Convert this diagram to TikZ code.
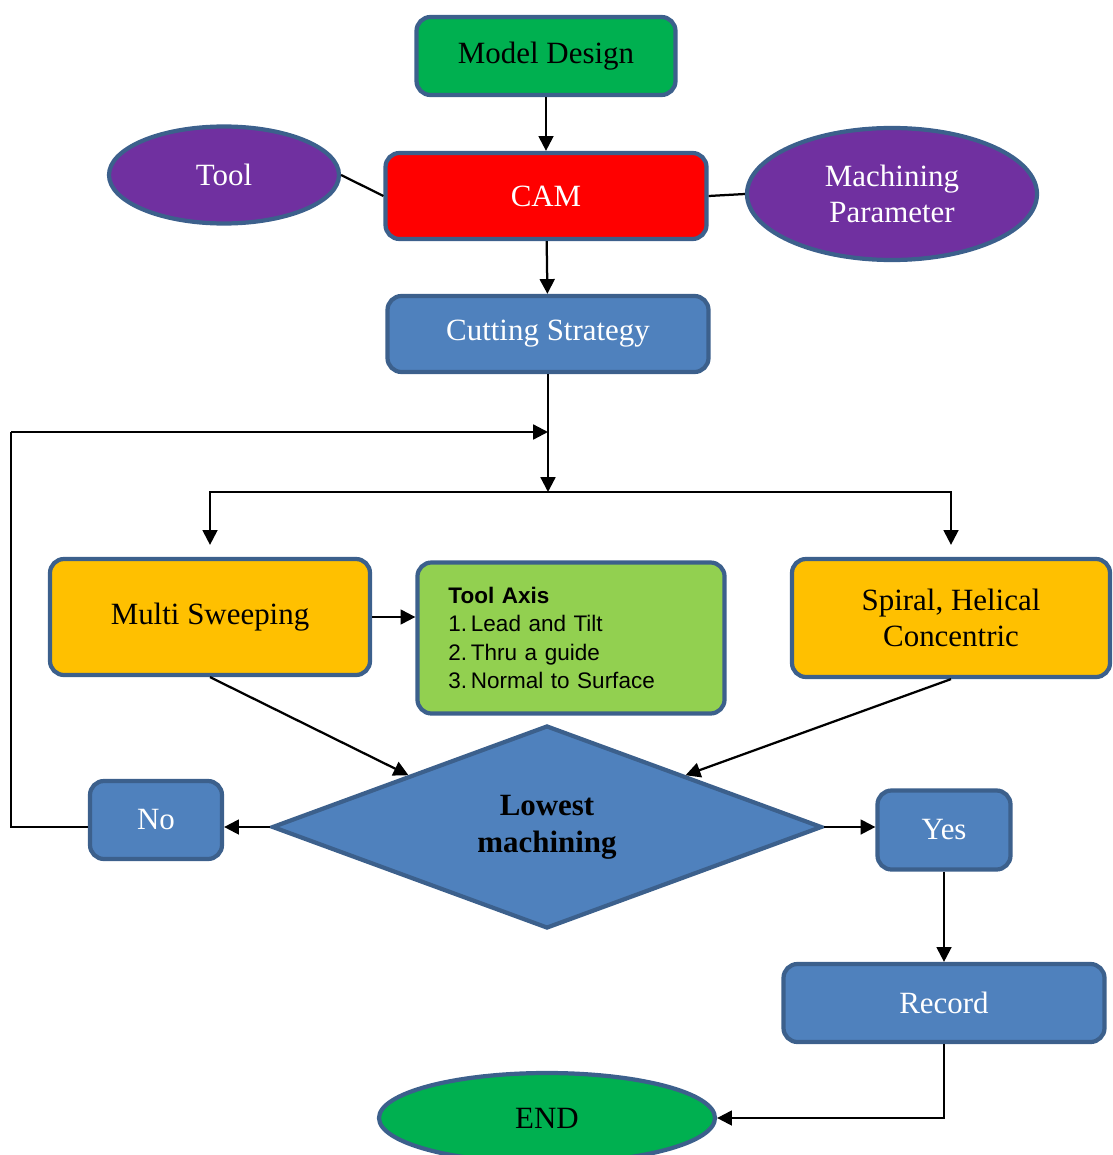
\documentclass[tikz,border=0pt]{standalone}
\usepackage{fontspec}
\setmainfont{Liberation Serif}
\newfontfamily\axisFont{Liberation Sans}
\usetikzlibrary{positioning, shapes.geometric, arrows.meta}
\tikzstyle{chart} = [x = .025cm, y = -.025cm]
\definecolor{borderColor}{RGB}{60,96,140}
\definecolor{boxBlue}{RGB}{79,129,189}
\definecolor{boxGreen}{RGB}{0,176,80}
\definecolor{boxRed}{RGB}{255,0,0}
\definecolor{boxPurple}{RGB}{112,48,160}
\definecolor{boxOrange}{RGB}{255,192,0}
\definecolor{boxLime}{RGB}{146,208,80}
\tikzstyle{baseStyle} = [draw=borderColor, line width=3pt, font=\fontsize{22}{26}\selectfont, inner sep=2pt, align=center]
\tikzstyle{boxStyle} = [baseStyle, rectangle, rounded corners = .35cm, fill=boxBlue, text=white]
\tikzstyle{ovalStyle} = [baseStyle, ellipse, fill=boxPurple, text=white]
\tikzstyle{linkStyle} = [black, line width=1.6pt]
\tikzstyle{arrowStyle} = [linkStyle, -{Triangle[length=.37cm, width=.37cm]}]
\tikzset{boxSize/.style 2 args={minimum width=#1 * .025cm, minimum height=#2 * .025cm}}
\begin{document}
\begin{tikzpicture}[chart]
  \useasboundingbox (0,0) rectangle (1112,1155);
  % top of the chart
  \node [boxStyle, fill=boxGreen, text=black, boxSize={259}{78}] (modelDesign) at (546,56) {Model Design};
  \node [boxStyle, fill=boxRed, boxSize={321}{86}] (cam) at (546,196) {CAM};
  \node [ovalStyle, boxSize={230}{97}] (tool) at (224,175) {Tool};
  \node [ovalStyle, boxSize={290}{132}] (machParam) at (892,194) {Machining\\Parameter};
  \node [boxStyle, boxSize={321}{76}] (cutting) at (548,334) {Cutting Strategy};
  \coordinate (merge) at (548,432);
  \coordinate (split) at (548,492);
  \coordinate (loopCorner) at (11,432);
  % strategies
  \node [boxStyle, fill=boxOrange, text=black, boxSize={320}{116}] (multi) at (210,617) {Multi Sweeping};
  \node [boxStyle, fill=boxLime, text=black, boxSize={307}{151}, font=\axisFont\fontsize{16}{20}\selectfont, align=left, inner xsep=.775cm, text width=6.125cm] (toolAxis) at (571,638)
    {\textbf{Tool Axis}\\1.\,Lead and Tilt\\2.\,Thru a guide\\3.\,Normal to Surface};
  \node [boxStyle, fill=boxOrange, text=black, boxSize={318}{118}] (spiral) at (951,618) {Spiral, Helical\\Concentric};
  % decision
  \node [baseStyle, diamond, fill=boxBlue, inner sep=0pt, boxSize={550}{201}, font=\fontsize{22}{26}\selectfont\bfseries] (lowest) at (547,827) {Lowest\\machining};
  \node [boxStyle, boxSize={132}{78}] (no) at (156,820) {No};
  \node [boxStyle, boxSize={133}{79}] (yes) at (944,830) {Yes};
  \node [boxStyle, boxSize={321}{78}] (record) at (944,1003) {Record};
  \node [ovalStyle, fill=boxGreen, text=black, boxSize={336}{90}] (finish) at (547,1118) {END};
  % connectors
  \draw [arrowStyle] (modelDesign) -- (cam);
  \draw [linkStyle] (tool.east) -- (cam.west);
  \draw [linkStyle] (machParam.west) -- (cam.east);
  \draw [arrowStyle] (cam) -- (cutting);
  \draw [arrowStyle] (cutting) -- (split);
  \draw [arrowStyle, shorten >=.3cm] (split) -| (multi.north);
  \draw [arrowStyle, shorten >=.3cm] (split) -| (spiral.north);
  \draw [arrowStyle] (multi.east) -- (multi.east -| toolAxis.west);
  \draw [arrowStyle] (multi.south) -- (lowest.north west);
  \draw [arrowStyle] (spiral.south) -- (lowest.north east);
  \draw [arrowStyle] (lowest.west) -- (lowest.west -| no.east);
  \draw [arrowStyle] (lowest.east) -- (lowest.east -| yes.west);
  \draw [linkStyle] (lowest.west -| no.west) -| (loopCorner);
  \draw [arrowStyle] (loopCorner) -- (merge);
  \draw [arrowStyle] (yes) -- (record);
  \draw [arrowStyle] (record.south) |- (finish.east);
\end{tikzpicture}
\end{document}
